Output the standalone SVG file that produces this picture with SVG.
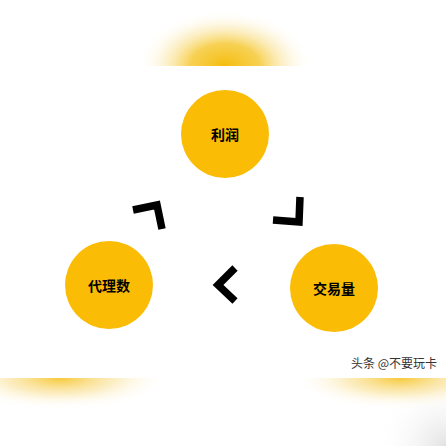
<svg xmlns="http://www.w3.org/2000/svg" width="446" height="446" viewBox="0 0 446 446">
<style>
.node{fill:#fbbc05}
.lbl{font-family:"Noto Sans CJK SC","Noto Sans",sans-serif;font-weight:bold;font-size:14px;fill:#000;text-anchor:middle;dominant-baseline:central}
.chev{fill:none;stroke:#000;stroke-width:7.5;stroke-linejoin:miter}
</style>
<defs>
<radialGradient id="glowTop" gradientUnits="userSpaceOnUse" cx="225" cy="66" r="70" gradientTransform="translate(225,66) scale(1.25,0.8) translate(-225,-66)">
<stop offset="0" stop-color="#f4bc0c" stop-opacity="1"/>
<stop offset="0.4" stop-color="#f6c936" stop-opacity="0.85"/>
<stop offset="0.75" stop-color="#fae7a8" stop-opacity="0.35"/>
<stop offset="1" stop-color="#ffffff" stop-opacity="0"/>
</radialGradient>
<radialGradient id="glowBotL" gradientUnits="userSpaceOnUse" cx="60" cy="378" r="90" gradientTransform="translate(60,378) scale(1.2,0.35) translate(-60,-378)">
<stop offset="0" stop-color="#f6c62e" stop-opacity="0.95"/>
<stop offset="0.5" stop-color="#f9dc85" stop-opacity="0.5"/>
<stop offset="1" stop-color="#ffffff" stop-opacity="0"/>
</radialGradient>
<radialGradient id="glowBotR" gradientUnits="userSpaceOnUse" cx="400" cy="378" r="90" gradientTransform="translate(400,378) scale(1.2,0.35) translate(-400,-378)">
<stop offset="0" stop-color="#f6c62e" stop-opacity="0.95"/>
<stop offset="0.5" stop-color="#f9dc85" stop-opacity="0.5"/>
<stop offset="1" stop-color="#ffffff" stop-opacity="0"/>
</radialGradient>
<radialGradient id="corner" gradientUnits="userSpaceOnUse" cx="446" cy="446" r="70">
<stop offset="0" stop-color="#e2e2e2"/>
<stop offset="1" stop-color="#ffffff" stop-opacity="0"/>
</radialGradient>
</defs>
<rect width="446" height="446" fill="#ffffff"/>
<rect x="370" y="376" width="76" height="70" fill="url(#corner)"/>
<rect x="100" y="0" width="250" height="66" fill="url(#glowTop)"/>
<rect x="0" y="378" width="180" height="50" fill="url(#glowBotL)"/>
<rect x="280" y="378" width="166" height="50" fill="url(#glowBotR)"/>
<g id="connectors">
<polyline class="chev" points="133,210 157,205 162,229"/>
<polyline class="chev" points="300,197 299,222 273,220"/>
<polyline class="chev" stroke-width="8" points="235,268 218,285 235,301"/>
</g>
<g id="node-profit">
<circle class="node" cx="225" cy="134" r="44"/>
<text class="lbl" x="225" y="134">利润</text>
</g>
<g id="node-agents">
<circle class="node" cx="109" cy="285" r="44"/>
<text class="lbl" x="109" y="285">代理数</text>
</g>
<g id="node-volume">
<circle class="node" cx="334" cy="288" r="44"/>
<text class="lbl" x="334" y="288">交易量</text>
</g>
<text x="437" y="362" font-family="Noto Sans CJK SC,sans-serif" font-size="12" fill="#333" text-anchor="end" dominant-baseline="central">头条 @不要玩卡</text>
</svg>
